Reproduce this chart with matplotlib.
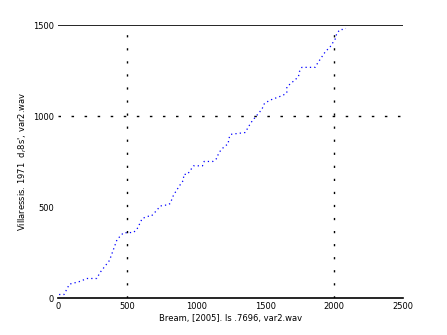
import numpy as np
import matplotlib
matplotlib.use("Agg")
import matplotlib.pyplot as plt

# alignment path breakpoints (x: Bream, y: Villaressis)
path_x = [7, 43, 82, 150, 210, 280, 304, 372, 427, 473, 546, 570, 599, 609, 654, 674,
          703, 741, 768, 792, 812, 836, 879, 908, 910, 937, 981, 1046, 1053, 1058, 1121,
          1150, 1162, 1179, 1198, 1234, 1234, 1251, 1355, 1396, 1427, 1476, 1495, 1536,
          1589, 1628, 1657, 1657, 1705, 1741, 1748, 1766, 1862, 1879, 1911, 1935, 1971,
          1990, 2007, 2019, 2043, 2072, 2084]
path_y = [20, 20, 77, 90, 108, 108, 141, 207, 322, 359, 361, 377, 421, 438, 450, 450,
          473, 506, 511, 511, 520, 566, 617, 648, 680, 680, 727, 727, 740, 751, 751,
          768, 795, 813, 828, 850, 873, 900, 910, 963, 993, 1037, 1070, 1088,
          1103, 1114, 1128, 1161, 1192, 1216, 1244, 1268, 1268, 1290, 1326, 1353, 1381,
          1403, 1423, 1455, 1476, 1476, 1482]

xticks = [0, 500, 1000, 1500, 2000, 2500]
yticks = [0, 500, 1000, 1500]
vlines = [500, 2000]

fig = plt.figure(figsize=(4.47, 3.35), dpi=100)
ax = fig.add_axes([0.13, 0.11, 0.772, 0.815])

ax.plot(path_x, path_y, color="blue", lw=0.9, dashes=(1, 2.5))

for v in vlines:
    ax.axvline(v, color="black", lw=1, dashes=(1.6, 7.8))
ax.axhline(1000, color="black", lw=1, dashes=(1.8, 7.6))
ax.axhline(1500, color="black", lw=1.2)

ax.set_xlim(0, 2500)
ax.set_ylim(0, 1500)
ax.set_xticks(xticks)
ax.set_yticks(yticks)
ax.tick_params(length=0, labelsize=6, pad=3)
for s in ["left", "right", "top"]:
    ax.spines[s].set_visible(False)
ax.spines["bottom"].set_linewidth(1.2)

ax.set_xlabel("Bream, [2005]. Is .7696, var2.wav", fontsize=6, labelpad=2)
ax.set_ylabel("Villaressis. 1971  d$_r$8s', var2.wav", fontsize=6, labelpad=3)

fig.savefig("out.png", dpi=100)
